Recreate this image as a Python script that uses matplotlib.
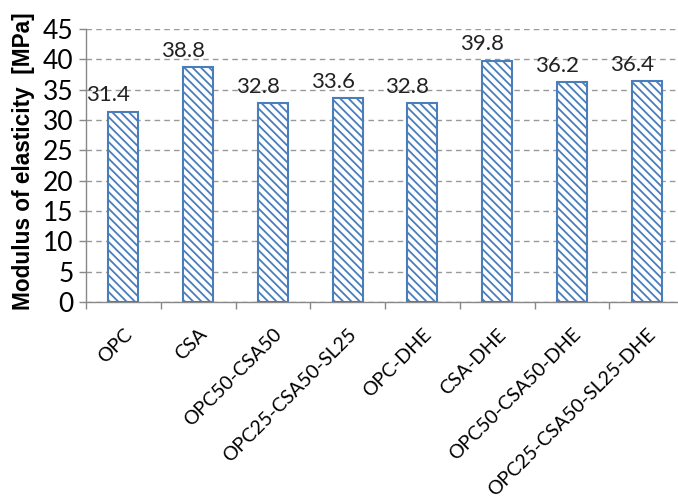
import matplotlib
matplotlib.use("Agg")
import matplotlib.pyplot as plt
import numpy as np

categories = ["OPC", "CSA", "OPC50-CSA50", "OPC25-CSA50-SL25", "OPC-DHE",
              "CSA-DHE", "OPC50-CSA50-DHE", "OPC25-CSA50-SL25-DHE"]
values = [31.4, 38.8, 32.8, 33.6, 32.8, 39.8, 36.2, 36.4]
labels = ["31.4", "38.8", "32.8", "33.6", "32.8", "39.8", "36.2", "36.4"]
yticks = [0, 5, 10, 15, 20, 25, 30, 35, 40, 45]

plt.rcParams['hatch.color'] = '#4A7EBB'
plt.rcParams['hatch.linewidth'] = 1.3

fig = plt.figure(figsize=(6.78, 5.03), dpi=100)
W, H = 678, 503
left, right, top, bottom = 86, 684, 29, 302
ax = fig.add_axes([left / W, 1 - bottom / H, (right - left) / W, (bottom - top) / H])

x = np.arange(len(categories))
ax.bar(x, values, width=0.40, facecolor='white', edgecolor='#4A7EBB',
       linewidth=1.5, hatch='\\\\\\\\', zorder=3)
for xi, v, lab in zip(x, values, labels):
    ax.text(xi - 0.2, v + 1.0, lab, ha='center', va='bottom', fontsize=16,
            family='Lato', color='#222222', zorder=4)

ax.set_xlim(-0.5, len(categories) - 0.5)
ax.set_ylim(0, 45)
ax.set_yticks(yticks)
ax.set_yticklabels([str(t) for t in yticks], fontsize=19, family='Lato')
ax.yaxis.grid(True, linestyle=(0, (4, 3)), color='#999999', linewidth=1.0, zorder=0)

ax.set_xticks(x)
ax.set_xticklabels(categories, rotation=45, ha='right', rotation_mode='anchor',
                   fontsize=14, family='Lato')
ax.set_xticks(np.arange(len(categories) + 1) - 0.5, minor=True)
ax.tick_params(axis='x', which='major', length=0, pad=17)
ax.tick_params(axis='x', which='minor', length=5, color='#888888', width=1.0)
ax.tick_params(axis='y', length=5, color='#888888', width=1.0, pad=4)

for s in ['top', 'right']:
    ax.spines[s].set_visible(False)
for s in ['left', 'bottom']:
    ax.spines[s].set_color('#888888')
    ax.spines[s].set_linewidth(1.0)

ax.set_ylabel("Modulus of elasticity  [MPa]", fontsize=16.3, fontweight='bold',
              family='Liberation Sans')
ax.yaxis.set_label_coords(-0.086, 0.515)

fig.savefig("out.png", dpi=100)
